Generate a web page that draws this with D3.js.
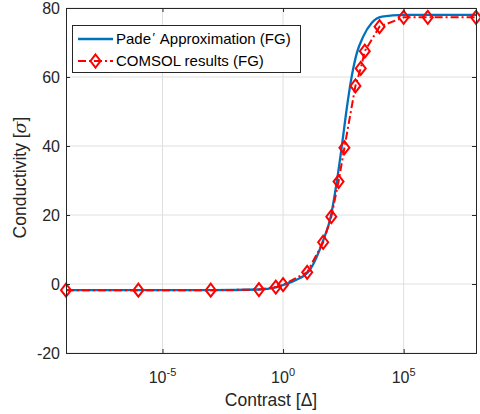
<!DOCTYPE html>
<html><head><meta charset="utf-8">
<script src="https://cdn.jsdelivr.net/npm/d3@7"></script>
<style>
body{margin:0;background:#fff;}
svg{display:block;font-family:"Liberation Sans",Arial,Helvetica,sans-serif;}
</style></head>
<body><svg id="c" width="480" height="414"></svg>
<script>
// Pade approximation curve
const padeX = [1e-9, 1e-3, 0.1, 0.5, 1, 3.6, 13, 47, 95, 166, 270, 420, 700, 1150, 2100, 4800, 12600, 1e5, 1e8];
const padeY = [-1.8, -1.8, -1.6, -1.0, -0.3, 1.2, 4.1, 12.8, 19.5, 29.3, 39.7, 50.0, 60.1, 67.0, 71.7, 75.7, 77.5, 78.0, 78.0];
// COMSOL results
const comsolX = [1e-9, 1e-6, 1e-3, 0.1, 0.5, 1, 10, 46, 100, 200, 350, 1000, 1660, 2450, 1e4, 1e5, 1e6, 1e8];
const comsolY = [-1.8, -1.8, -1.8, -1.6, -0.9, -0.2, 3.4, 12.1, 19.5, 29.7, 39.5, 57.4, 62.5, 67.5, 74.6, 77.3, 77.3, 77.3];
const xTicks = [1e-5, 1e0, 1e5];
const xTickExp = ["-5", "0", "5"];
const yTicks = [-20, 0, 20, 40, 60, 80];
const seriesNames = ["Pade", "COMSOL results (FG)"];

const W = 480, H = 414;
const m = {l:66, t:8, r:4, b:61};
const svg = d3.select("#c");
const x = d3.scaleLog().domain([1e-9, 1e8]).range([m.l, W - m.r]);
const y = d3.scaleLinear().domain([-20, 80]).range([H - m.b, m.t]);
const axCol = "#262626";

// grid
const g = svg.append("g");
g.selectAll(".gx").data(xTicks).enter().append("line")
  .attr("x1", d => x(d)).attr("x2", d => x(d)).attr("y1", m.t).attr("y2", H - m.b)
  .attr("stroke", "#dfdfdf").attr("stroke-width", 1);
g.selectAll(".gy").data(yTicks).enter().append("line")
  .attr("y1", d => y(d)).attr("y2", d => y(d)).attr("x1", m.l).attr("x2", W - m.r)
  .attr("stroke", "#dfdfdf").attr("stroke-width", 1);

// lines
const pade = padeX.map((v, i) => [v, padeY[i]]);
const comsol = comsolX.map((v, i) => [v, comsolY[i]]);
const lineP = d3.line().x(d => x(d[0])).y(d => y(d[1])).curve(d3.curveMonotoneX);
const lineC = d3.line().x(d => x(d[0])).y(d => y(d[1]));
svg.append("path").attr("d", lineP(pade)).attr("fill", "none")
  .attr("stroke", "#0072BD").attr("stroke-width", 2.3);
svg.append("path").attr("d", lineC(comsol)).attr("fill", "none")
  .attr("stroke", "#FF0000").attr("stroke-width", 2).attr("stroke-dasharray", "8,3,2,3");
const diamond = (cx, cy) => `M${cx},${cy-6.5}L${cx+5},${cy}L${cx},${cy+6.5}L${cx-5},${cy}Z`;
svg.selectAll(".mk").data(comsol).enter().append("path")
  .attr("d", d => diamond(x(d[0]), y(d[1])))
  .attr("fill", "none").attr("stroke", "#FF0000").attr("stroke-width", 2);

// axes box
const xb = d3.axisBottom(x).tickValues(xTicks).tickSize(-4).tickFormat("");
const xt = d3.axisTop(x).tickValues(xTicks).tickSize(-4).tickFormat("");
const yl = d3.axisLeft(y).tickValues(yTicks).tickSize(-4).tickFormat("");
const yr = d3.axisRight(y).tickValues(yTicks).tickSize(-4).tickFormat("");
[[xb, `translate(0,${H - m.b})`], [xt, `translate(0,${m.t})`], [yl, `translate(${m.l},0)`], [yr, `translate(${W - m.r},0)`]]
  .forEach(([a, tr]) => {
    const ga = svg.append("g").attr("transform", tr).call(a);
    ga.selectAll("path,line").attr("stroke", axCol).attr("stroke-width", 1);
  });

// tick labels
svg.selectAll(".yl").data(yTicks).enter().append("text")
  .attr("x", m.l - 6).attr("y", d => y(d)).attr("dy", "0.36em")
  .attr("text-anchor", "end").attr("font-size", 16).attr("fill", axCol).text(d => d);
xTicks.forEach((d, i) => {
  const t = svg.append("text").attr("x", x(d)).attr("y", 383)
    .attr("text-anchor", "middle").attr("font-size", 16).attr("fill", axCol);
  t.append("tspan").text("10");
  t.append("tspan").attr("font-size", 11).attr("dy", -7).text(xTickExp[i]);
});

// axis labels
const xlab = svg.append("text").attr("x", (m.l + W - m.r) / 2).attr("y", 406)
  .attr("text-anchor", "middle").attr("font-size", 17.5).attr("fill", axCol);
xlab.append("tspan").text("Contrast [\u0394]");
const ylab = svg.append("text").attr("transform", `translate(26,${(m.t + H - m.b) / 2 - 3}) rotate(-90)`)
  .attr("text-anchor", "middle").attr("font-size", 17.5).attr("fill", axCol);
ylab.append("tspan").text("Conductivity [");
ylab.append("tspan").attr("font-style", "italic").attr("font-family", "DejaVu Serif, serif").text("\u03C3");
ylab.append("tspan").text("]");

// legend
const lg = svg.append("g");
lg.append("rect").attr("x", 72.5).attr("y", 25.5).attr("width", 228).attr("height", 47)
  .attr("fill", "#fff").attr("stroke", axCol).attr("stroke-width", 1);
lg.append("line").attr("x1", 78).attr("x2", 113).attr("y1", 39).attr("y2", 39)
  .attr("stroke", "#0072BD").attr("stroke-width", 2.3);
lg.append("line").attr("x1", 78).attr("x2", 113).attr("y1", 61).attr("y2", 61)
  .attr("stroke", "#FF0000").attr("stroke-width", 2).attr("stroke-dasharray", "8,3,2,3");
lg.append("path").attr("d", diamond(95.5, 61)).attr("fill", "none")
  .attr("stroke", "#FF0000").attr("stroke-width", 2);
const t1 = lg.append("text").attr("x", 116).attr("y", 39).attr("dy", "0.36em")
  .attr("font-size", 15).attr("fill", "#000");
t1.append("tspan").text(seriesNames[0]);
t1.append("tspan").attr("dx", 1.5).attr("dy", -2).attr("font-size", 13).text("\u2032");
t1.append("tspan").attr("dy", 2).attr("dx", 1.5).text(" Approximation (FG)");
lg.append("text").attr("x", 116).attr("y", 61).attr("dy", "0.36em")
  .attr("font-size", 15).attr("fill", "#000").text(seriesNames[1]);
</script></body></html>
